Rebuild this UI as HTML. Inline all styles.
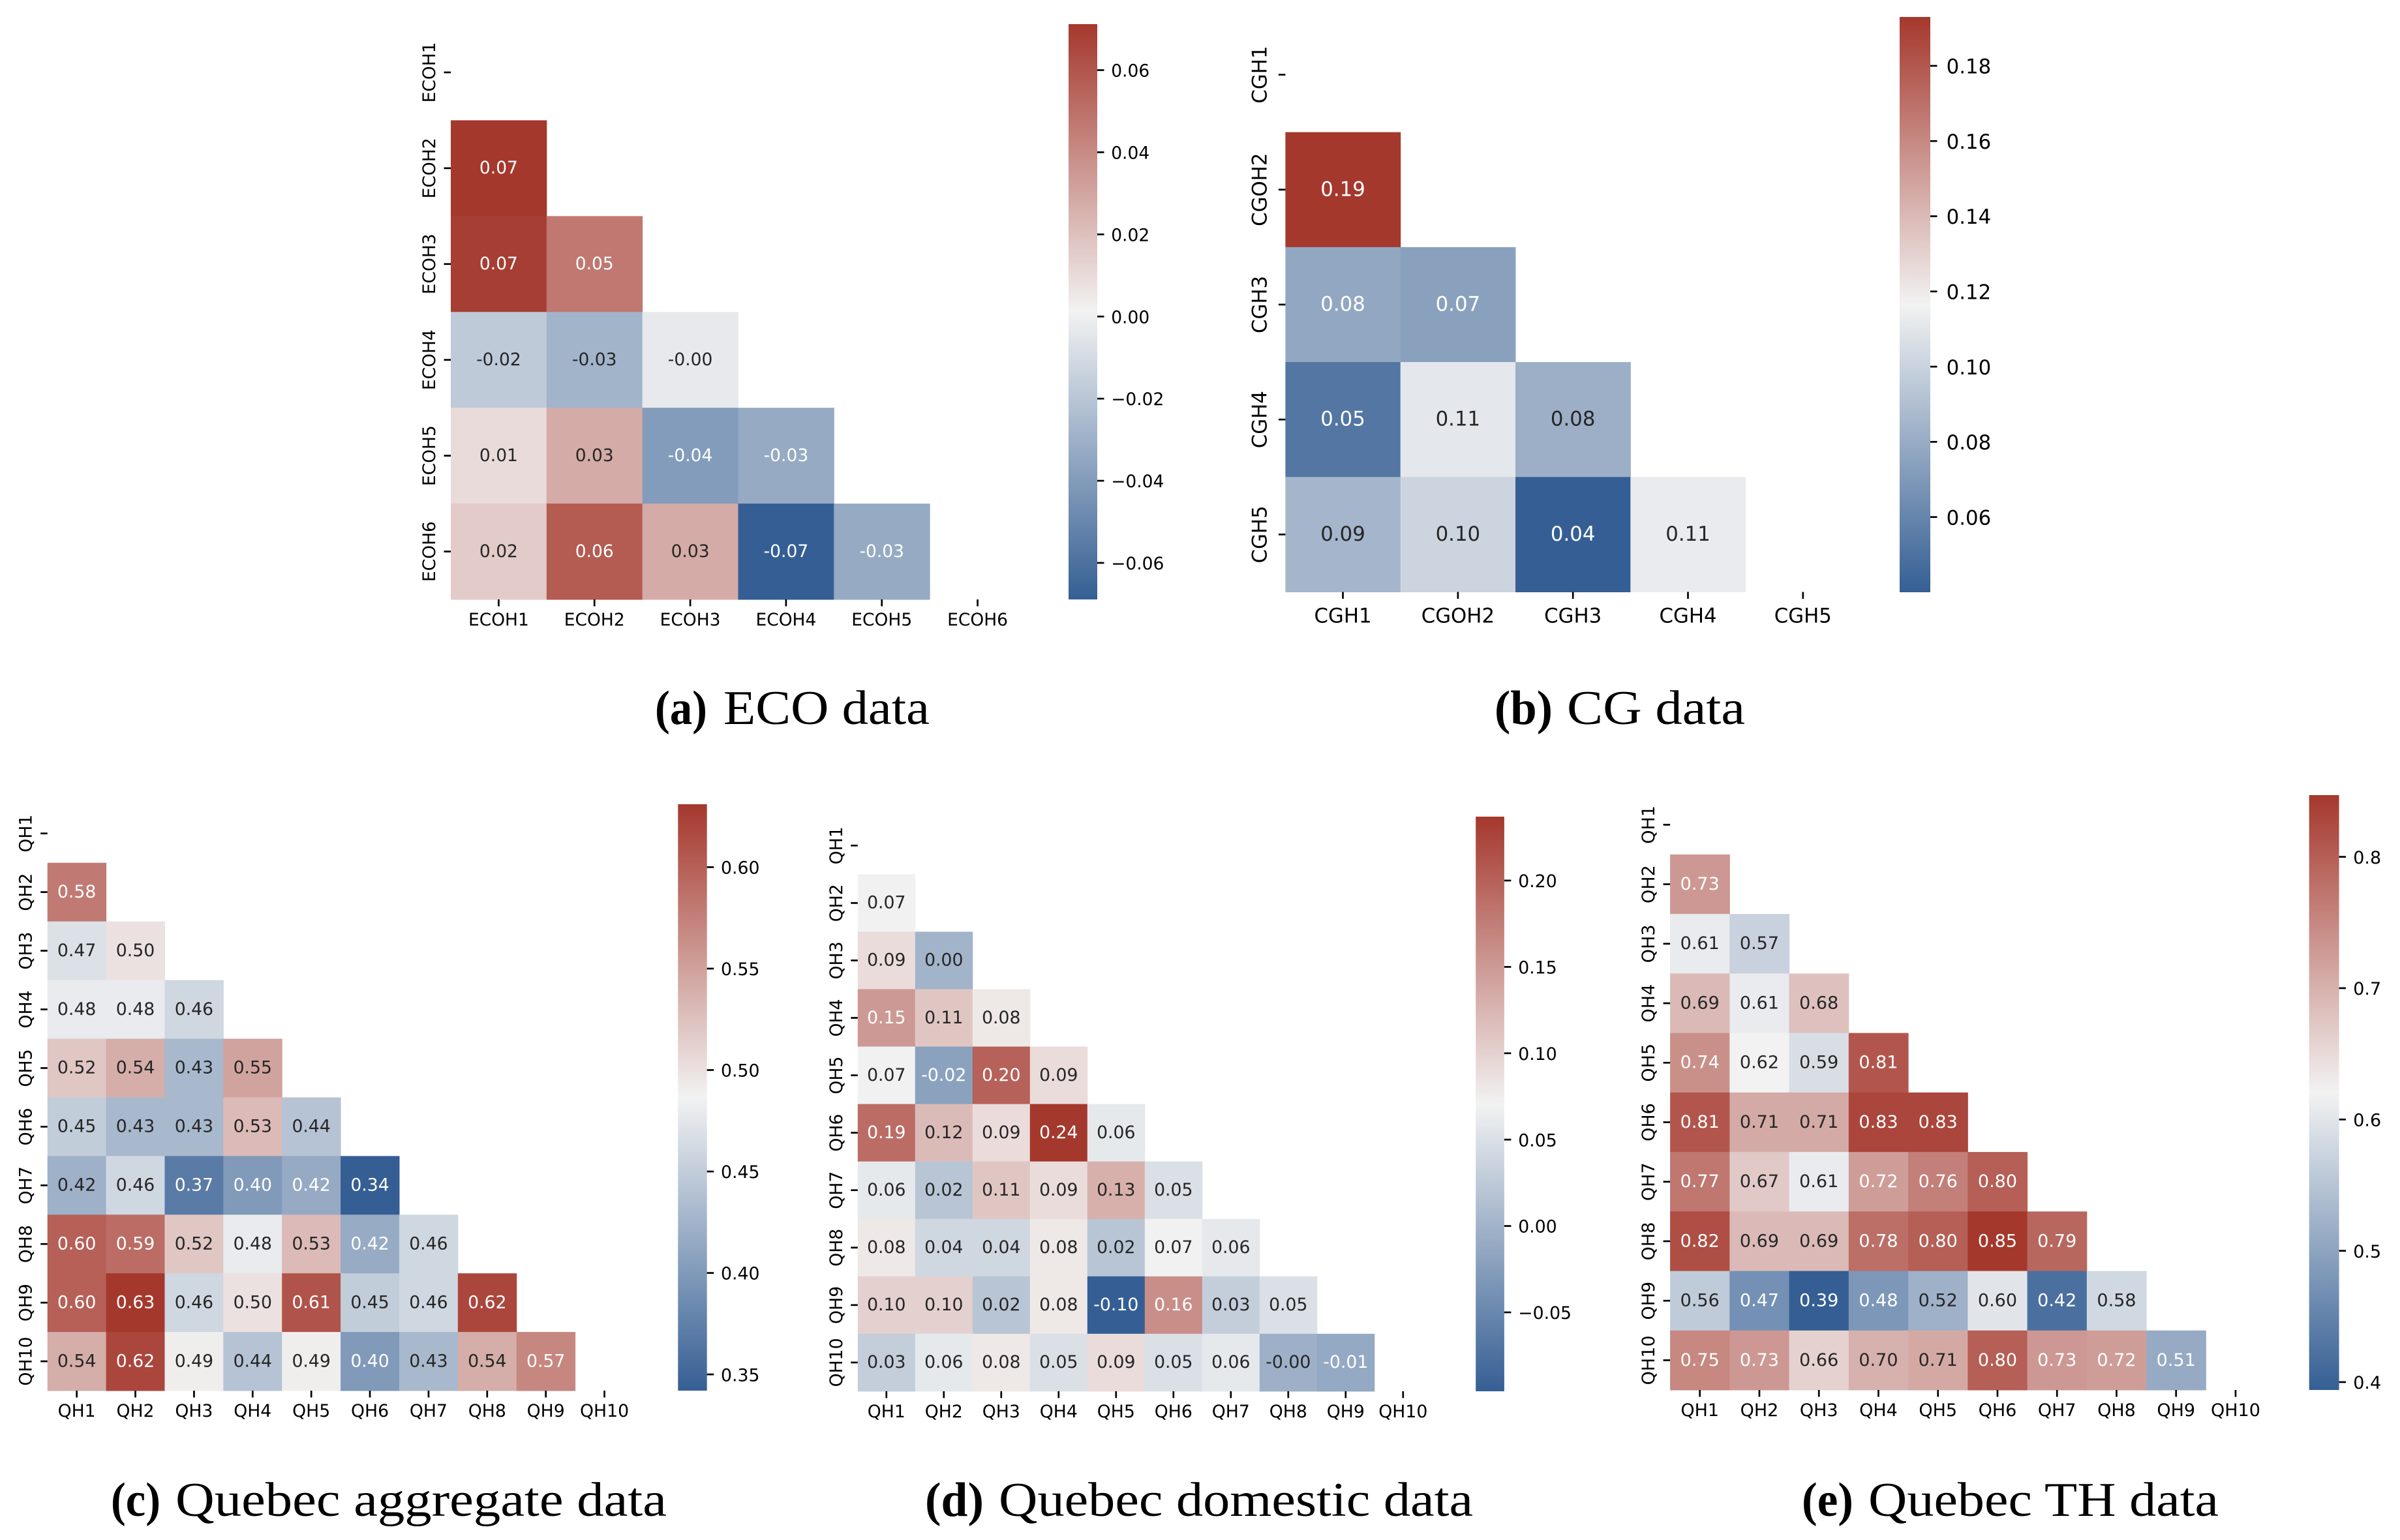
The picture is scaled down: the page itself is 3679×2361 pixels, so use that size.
<!DOCTYPE html>
<html lang="en">
<head>
<meta charset="utf-8">
<title>Correlation heatmaps</title>
<style>
html,body{margin:0;padding:0;background:#fff;}
svg{display:block;}
text{font-family:"DejaVu Sans",sans-serif;}
.cap{font-family:"Liberation Serif",serif;fill:#000;}
</style>
</head>
<body>
<svg id="fig" xmlns="http://www.w3.org/2000/svg" width="3679" height="2361" viewBox="0 0 3679 2361">
<rect x="0" y="0" width="3679" height="2361" fill="#fff"/>
<defs>
<linearGradient id="cbar-gradient" x1="0" y1="1" x2="0" y2="0">
<stop offset="0" stop-color="#355F94"/>
<stop offset="0.5" stop-color="#F2F2F2"/>
<stop offset="1" stop-color="#A5382D"/>
</linearGradient>
</defs>
<g class="cap">
<text class="cap" x="1004" y="1110" font-size="74" font-weight="bold" textLength="80" lengthAdjust="spacingAndGlyphs">(a)</text>
<text class="cap" x="1109" y="1110" font-size="74" textLength="316" lengthAdjust="spacingAndGlyphs">ECO data</text>
</g>
<g class="cap">
<text class="cap" x="2291" y="1110" font-size="74" font-weight="bold" textLength="89" lengthAdjust="spacingAndGlyphs">(b)</text>
<text class="cap" x="2402" y="1110" font-size="74" textLength="273" lengthAdjust="spacingAndGlyphs">CG data</text>
</g>
<g class="cap">
<text class="cap" x="170" y="2324" font-size="74" font-weight="bold" textLength="76" lengthAdjust="spacingAndGlyphs">(c)</text>
<text class="cap" x="269" y="2324" font-size="74" textLength="753" lengthAdjust="spacingAndGlyphs">Quebec aggregate data</text>
</g>
<g class="cap">
<text class="cap" x="1418" y="2324" font-size="74" font-weight="bold" textLength="90" lengthAdjust="spacingAndGlyphs">(d)</text>
<text class="cap" x="1531" y="2324" font-size="74" textLength="727" lengthAdjust="spacingAndGlyphs">Quebec domestic data</text>
</g>
<g class="cap">
<text class="cap" x="2762" y="2324" font-size="74" font-weight="bold" textLength="79" lengthAdjust="spacingAndGlyphs">(e)</text>
<text class="cap" x="2864" y="2324" font-size="74" textLength="537" lengthAdjust="spacingAndGlyphs">Quebec TH data</text>
</g>
<g id="charts"></g>
</svg>
<script>
// ---- data ----
const ecoLabels = ['ECOH1','ECOH2','ECOH3','ECOH4','ECOH5','ECOH6'];
const ecoValues = [
  [],
  [0.0712],
  [0.069,0.047],
  [-0.018,-0.0285,-0.003],
  [0.01,0.028,-0.04,-0.033],
  [0.016,0.058,0.028,-0.0689,-0.033]
];
const ecoCbarTicks = [-0.06,-0.04,-0.02,0,0.02,0.04,0.06];

const cgXLabels = ['CGH1','CGOH2','CGH3','CGH4','CGH5'];
const cgValues = [
  [],
  [0.193],
  [0.0775,0.0744],
  [0.0522,0.111,0.0817],
  [0.0855,0.101,0.04,0.113]
];
const cgCbarTicks = [0.06,0.08,0.10,0.12,0.14,0.16,0.18];

const quebecLabels = ['QH1','QH2','QH3','QH4','QH5','QH6','QH7','QH8','QH9','QH10'];
const aggValues = [
  [],
  [0.58],
  [0.47,0.50],
  [0.48,0.48,0.46],
  [0.52,0.54,0.43,0.548],
  [0.45,0.43,0.43,0.53,0.44],
  [0.423,0.46,0.37,0.40,0.416,0.342],
  [0.60,0.59,0.52,0.48,0.53,0.417,0.46],
  [0.60,0.631,0.46,0.50,0.61,0.45,0.46,0.62],
  [0.54,0.62,0.49,0.44,0.49,0.40,0.43,0.54,0.57]
];
const aggCbarTicks = [0.35,0.40,0.45,0.50,0.55,0.60];

const domValues = [
  [],
  [0.07],
  [0.09,0.00],
  [0.15,0.11,0.08],
  [0.07,-0.02,0.20,0.09],
  [0.19,0.12,0.09,0.237,0.06],
  [0.06,0.02,0.11,0.09,0.13,0.05],
  [0.08,0.04,0.04,0.08,0.02,0.07,0.06],
  [0.10,0.10,0.02,0.08,-0.0957,0.16,0.03,0.05],
  [0.03,0.06,0.08,0.05,0.09,0.05,0.06,-0.004,-0.012]
];
const domCbarTicks = [-0.05,0,0.05,0.10,0.15,0.20];

const thValues = [
  [],
  [0.73],
  [0.61,0.57],
  [0.69,0.61,0.68],
  [0.74,0.62,0.59,0.81],
  [0.81,0.708,0.708,0.83,0.83],
  [0.77,0.67,0.61,0.724,0.76,0.80],
  [0.82,0.69,0.69,0.78,0.80,0.847,0.79],
  [0.56,0.47,0.394,0.48,0.52,0.60,0.42,0.58],
  [0.75,0.73,0.66,0.70,0.71,0.80,0.73,0.724,0.51]
];
const thCbarTicks = [0.4,0.5,0.6,0.7,0.8];

// ---- layout ----
const panels = [
  {id:'eco', labels:ecoLabels, values:ecoValues, ticks:ecoCbarTicks, dec:2, left:691, right:1572, top:37.5, bottom:919, cbL:1638, cbR:1682, cbT:37, cbB:919, font:26.5, yOff:24, xOff:40},
  {id:'cg', labels:cgXLabels, values:cgValues, ticks:cgCbarTicks, dec:2, left:1970.4, right:2852, top:26.4, bottom:907.5, cbL:2912, cbR:2959, cbT:26, cbB:908, font:30.8, yOff:29, xOff:47},
  {id:'quebec-aggregate', labels:quebecLabels, values:aggValues, ticks:aggCbarTicks, dec:2, left:72.7, right:971.5, top:1232.8, bottom:2132, cbL:1039.3, cbR:1083.7, cbT:1233, cbB:2132, font:26.7, yOff:24, xOff:40},
  {id:'quebec-domestic', labels:quebecLabels, values:domValues, ticks:domCbarTicks, dec:2, left:1314.8, right:2194.8, top:1252.3, bottom:2132.9, cbL:2262.2, cbR:2305.9, cbT:1252, cbB:2133, font:26.7, yOff:24, xOff:40},
  {id:'quebec-th', labels:quebecLabels, values:thValues, ticks:thCbarTicks, dec:1, left:2560.1, right:3472.6, top:1218.8, bottom:2131, cbL:3539.7, cbR:3585.6, cbT:1219, cbB:2131, font:27, yOff:24, xOff:40}
];

const NS = 'http://www.w3.org/2000/svg';
const LOW = [53,95,148], MID = [242,242,242], HIGH = [165,56,45];

function make(tag, attrs, parent){
  const el = document.createElementNS(NS, tag);
  for (const k in attrs) el.setAttribute(k, attrs[k]);
  parent.appendChild(el);
  return el;
}
function colorAt(t){
  const a = t < 0.5 ? LOW : MID;
  const b = t < 0.5 ? MID : HIGH;
  const f = t < 0.5 ? t * 2 : (t - 0.5) * 2;
  return [0,1,2].map(i => Math.round(a[i] + (b[i] - a[i]) * f));
}
function luminance(rgb){
  const c = rgb.map(v => { v /= 255; return v <= 0.04045 ? v / 12.92 : Math.pow((v + 0.055) / 1.055, 2.4); });
  return 0.2126 * c[0] + 0.7152 * c[1] + 0.0722 * c[2];
}

const root = document.getElementById('charts');
panels.forEach(function(p){
  const g = make('g', {}, root);
  
  

  const n = p.labels.length;
  const flat = p.values.flat();
  const vmin = Math.min.apply(null, flat);
  const vmax = Math.max.apply(null, flat);
  const xBand = i => p.left + (p.right - p.left) * i / n;
  const yBand = i => p.top + (p.bottom - p.top) * i / n;
  const norm = v => (v - vmin) / (vmax - vmin);
  const yCbar = v => p.cbB - norm(v) * (p.cbB - p.cbT);
  const tickLen = 10.5, tickW = 2.7;

  // cells + annotations
  p.values.forEach(function(row, r){
    row.forEach(function(v, c){
      const rgb = colorAt(norm(v));
      const cell = make('rect', {x:xBand(c), y:yBand(r), width:xBand(c+1)-xBand(c)+0.5, height:yBand(r+1)-yBand(r)+0.5, fill:'rgb('+rgb.join(',')+')'}, g);
      
      
    });
  });
  p.values.forEach(function(row, r){
    row.forEach(function(v, c){
      const rgb = colorAt(norm(v));
      const t = make('text', {x:(xBand(c)+xBand(c+1))/2, y:(yBand(r)+yBand(r+1))/2 + p.font*0.31, 'font-size':p.font, 'text-anchor':'middle', fill: luminance(rgb) < 0.408 ? '#ffffff' : '#262626'}, g);
      t.textContent = v.toFixed(2);
      
      
    });
  });

  // axes ticks + labels
  p.labels.forEach(function(lab, i){
    const cx = (xBand(i)+xBand(i+1))/2;
    const cy = (yBand(i)+yBand(i+1))/2;

    const xt = make('line', {x1:cx, x2:cx, y1:p.bottom, y2:p.bottom+tickLen, stroke:'#000', 'stroke-width':tickW}, g);
    
    

    const xl = make('text', {x:cx, y:p.bottom+p.xOff, 'font-size':p.font, 'text-anchor':'middle', fill:'#000'}, g);
    xl.textContent = lab;
    
    

    const yt = make('line', {x1:p.left-tickLen, x2:p.left, y1:cy, y2:cy, stroke:'#000', 'stroke-width':tickW}, g);
    
    

    const bx = p.left - p.yOff;
    const yl = make('text', {x:bx, y:cy, 'font-size':p.font, 'text-anchor':'middle', fill:'#000', transform:'rotate(-90 '+bx+' '+cy+')'}, g);
    yl.textContent = lab;
    
    
  });

  // colorbar
  const cb = make('rect', {x:p.cbL, y:p.cbT, width:p.cbR-p.cbL, height:p.cbB-p.cbT, fill:'url(#cbar-gradient)'}, g);
  
  

  p.ticks.forEach(function(v){
    const y = yCbar(v);
    const tk = make('line', {x1:p.cbR, x2:p.cbR+tickLen, y1:y, y2:y, stroke:'#000', 'stroke-width':tickW}, g);
    
    

    const lb = make('text', {x:p.cbR+p.font*0.8, y:y+p.font*0.38, 'font-size':p.font, fill:'#000'}, g);
    lb.textContent = v.toFixed(p.dec).replace('-', '\u2212');
    
    
  });
});
</script>
</body>
</html>
